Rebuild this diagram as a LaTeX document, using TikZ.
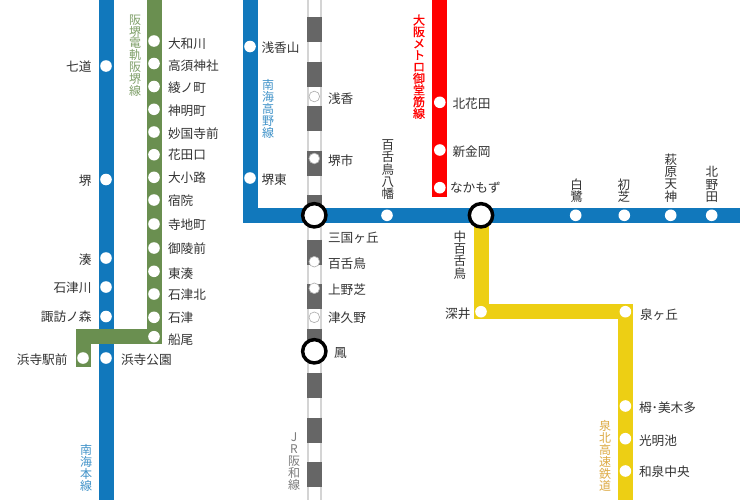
\documentclass[tikz,border=0pt]{standalone}
\usepackage{fontspec}
\setmainfont{Noto Sans CJK JP}
\usetikzlibrary{backgrounds}

\definecolor{nankaiblue}{RGB}{17,120,188}
\definecolor{hankaigreen}{RGB}{106,143,80}
\definecolor{midosujired}{RGB}{255,0,0}
\definecolor{senbokuyellow}{RGB}{237,207,20}
\definecolor{jrdark}{RGB}{102,102,102}
\definecolor{jredge}{RGB}{212,212,212}
\definecolor{labeltext}{RGB}{51,51,51}
\definecolor{senbokuname}{RGB}{221,170,68}

\tikzset{every picture/.style={line width=0.75pt}}
\tikzset{
  railline/.style={line width=11.25pt,line join=miter,line cap=butt},
  stationdot/.style={circle,fill=white,draw=none,minimum size=8.7pt,inner sep=0pt},
  jrstation/.style={circle,fill=white,draw=jrstationedge,line width=0.5pt,minimum size=8pt,inner sep=0pt},
  hubstation/.style={circle,fill=white,draw=black,line width=2.6pt,minimum size=17.5pt,inner sep=0pt},
  stationname/.style={font=\fontsize{9.5}{10}\selectfont,text=labeltext,inner sep=0pt},
  upright/.style={font=\fontsize{9.4}{9.3}\selectfont,text=labeltext,inner sep=0pt,align=center,anchor=north},
  linename/.style={font=\fontsize{9}{8.95}\selectfont,inner sep=0pt,align=center,anchor=north},
}
\colorlet{jrstationedge}{black!30}

\begin{document}
\begin{tikzpicture}[x=0.75pt,y=0.75pt,yscale=-1,xscale=1]
\useasboundingbox (0,0) rectangle (740,500);

% Line ends
\coordinate (nkTop) at (106,0);
\coordinate (nkBot) at (106,500);
\coordinate (kyTop) at (250,0);
\coordinate (kyCorner) at (250,215.3);
\coordinate (kyEnd) at (740,215.3);
\coordinate (hkTop) at (154,0);
\coordinate (hkCorner) at (83,336.7);
\coordinate (hkEnd) at (83,367);
\coordinate (jrTop) at (314.3,0);
\coordinate (jrBot) at (314.3,500);
\coordinate (mdTop) at (439.8,0);
\coordinate (mdEnd) at (439.8,197);
\coordinate (sbBot) at (625.4,500);

% Stations: Nankai main line
\node [stationdot] (shichido) at (106,66) {};
\node [stationdot] (sakai) at (106,179.5) {};
\node [stationdot] (minato) at (106,258) {};
\node [stationdot] (ishizugawa) at (106,287) {};
\node [stationdot] (suwanomori) at (106,316.5) {};
\node [stationdot] (hamaderakoen) at (106,358) {};
% Stations: Hankai line
\node [stationdot] (yamatogawa) at (154,41) {};
\node [stationdot] (takasu) at (154,63.5) {};
\node [stationdot] (ayanocho) at (154,86.5) {};
\node [stationdot] (shinmeicho) at (154,109.3) {};
\node [stationdot] (myokokuji) at (154,132) {};
\node [stationdot] (hanadaguchi) at (154,154.7) {};
\node [stationdot] (oshoji) at (154,177.3) {};
\node [stationdot] (shukuin) at (154,200) {};
\node [stationdot] (terajicho) at (154,224) {};
\node [stationdot] (goryomae) at (154,248) {};
\node [stationdot] (higashiminato) at (154,271.3) {};
\node [stationdot] (ishizukita) at (154,294) {};
\node [stationdot] (ishizu) at (154,317.3) {};
\node [stationdot] (funao) at (154,336.7) {};
\node [stationdot] (hamaderaekimae) at (83,358) {};
% Stations: Nankai Koya line
\node [stationdot] (asakayama) at (250,46.5) {};
\node [stationdot] (sakaihigashi) at (250,178) {};
\node [stationdot] (hachiman) at (387,215.3) {};
\node [stationdot] (shirasagi) at (575.7,215.3) {};
\node [stationdot] (hatsushiba) at (624.3,215.3) {};
\node [stationdot] (hagiharatenjin) at (670.7,215.3) {};
\node [stationdot] (kitanoda) at (711.7,215.3) {};
% Stations: JR Hanwa line
\node [jrstation] (asaka) at (314.3,96.5) {};
\node [jrstation] (sakaishi) at (314.3,158.5) {};
\node [jrstation] (mozu) at (314.3,261.7) {};
\node [jrstation] (uenoshiba) at (314.3,288.3) {};
\node [jrstation] (tsukuno) at (314.3,317.3) {};
% Stations: Midosuji line
\node [stationdot] (kitahanada) at (439.8,102.3) {};
\node [stationdot] (shinkanaoka) at (439.8,150) {};
\node [stationdot] (nakamozumd) at (439.8,187.7) {};
% Stations: Senboku line
\node [stationdot] (fukai) at (481,311.7) {};
\node [stationdot] (izumigaoka) at (625.4,311.7) {};
\node [stationdot] (toga) at (625.4,406) {};
\node [stationdot] (komyoike) at (625.4,438.7) {};
\node [stationdot] (izumichuo) at (625.4,471) {};
% Interchanges
\node [hubstation] (mikunigaoka) at (314.3,215.3) {};
\node [hubstation] (nakamozu) at (481,215.3) {};
\node [hubstation] (otori) at (314.3,351.3) {};

% Lines
\begin{scope}[on background layer]
\fill [white] (0,0) rectangle (740,500);
\draw [railline,jredge,line width=11.6pt] (jrTop) -- (jrBot);
\draw [railline,white,line width=8.6pt] (jrTop) -- (jrBot);
\draw [railline,jrdark,dash pattern=on 18.75pt off 14.625pt,dash phase=20.625pt] (jrTop) -- (jrBot);
\draw [railline,nankaiblue] (nkTop) -- (nkBot);
\draw [railline,nankaiblue] (kyTop) -- (kyCorner) -- (kyEnd);
\draw [railline,senbokuyellow] (nakamozu.center) -- (fukai.center) -- (izumigaoka.center) -- (sbBot);
\draw [railline,midosujired] (mdTop) -- (mdEnd);
\draw [railline,hankaigreen] (hkTop) -- (funao.center) -- (hkCorner) -- (hkEnd);
\end{scope}

% Text Node
\node [stationname,anchor=east] (lbShichido) at (92,66.5) {七道};
\node [stationname,anchor=east] (lbSakai) at (92,180.5) {堺};
\node [stationname,anchor=east] (lbMinato) at (92,260) {湊};
\node [stationname,anchor=east] (lbIshizugawa) at (92,287.5) {石津川};
\node [stationname,anchor=east] (lbSuwanomori) at (92,317) {諏訪ノ森};
\node [stationname,anchor=east] (lbHamaderaekimae) at (68,360) {浜寺駅前};
\node [stationname,anchor=west] (lbHamaderakoen) at (120.5,360) {浜寺公園};
% Text Node
\node [stationname,anchor=west] (lbYamatogawa) at (167.5,43.5) {大和川};
\node [stationname,anchor=west] (lbTakasu) at (167.5,65.5) {高須神社};
\node [stationname,anchor=west] (lbAyanocho) at (167.5,87.5) {綾ノ町};
\node [stationname,anchor=west] (lbShinmeicho) at (167.5,110.5) {神明町};
\node [stationname,anchor=west] (lbMyokokuji) at (167.5,134) {妙国寺前};
\node [stationname,anchor=west] (lbHanadaguchi) at (167.5,155) {花田口};
\node [stationname,anchor=west] (lbOshoji) at (167.5,178) {大小路};
\node [stationname,anchor=west] (lbShukuin) at (167.5,200.5) {宿院};
\node [stationname,anchor=west] (lbTerajicho) at (167.5,225) {寺地町};
\node [stationname,anchor=west] (lbGoryomae) at (167.5,249) {御陵前};
\node [stationname,anchor=west] (lbHigashiminato) at (167.5,274) {東湊};
\node [stationname,anchor=west] (lbIshizukita) at (167.5,294.5) {石津北};
\node [stationname,anchor=west] (lbIshizu) at (167.5,318) {石津};
\node [stationname,anchor=west] (lbFunao) at (167.5,340) {船尾};
% Text Node
\node [stationname,anchor=west] (lbAsakayama) at (261,48) {浅香山};
\node [stationname,anchor=west] (lbSakaihigashi) at (261,180) {堺東};
\node [stationname,anchor=west] (lbAsaka) at (327.5,98.5) {浅香};
\node [stationname,anchor=west] (lbSakaishi) at (327.5,160.5) {堺市};
\node [stationname,anchor=west] (lbMikunigaoka) at (327.5,237.5) {三国ヶ丘};
\node [stationname,anchor=west] (lbMozu) at (327.5,263.5) {百舌鳥};
\node [stationname,anchor=west] (lbUenoshiba) at (327.5,289.5) {上野芝};
\node [stationname,anchor=west] (lbTsukuno) at (327.5,318) {津久野};
\node [stationname,anchor=west] (lbOtori) at (333.5,353) {鳳};
% Text Node
\node [stationname,anchor=west] (lbKitahanada) at (452,103.5) {北花田};
\node [stationname,anchor=west] (lbShinkanaoka) at (452,151.5) {新金岡};
\node [stationname,anchor=west] (lbNakamozumd) at (449.5,187.5) {なかもず};
\node [stationname,anchor=east] (lbFukai) at (471,314) {深井};
\node [stationname,anchor=west] (lbIzumigaoka) at (639.5,315) {泉ヶ丘};
\node [stationname,anchor=west] (lbToga) at (638.5,407.5) {栂･美木多};
\node [stationname,anchor=west] (lbKomyoike) at (638.5,441) {光明池};
\node [stationname,anchor=west] (lbIzumichuo) at (638.5,472) {和泉中央};
% Text Node
\node [upright] (lbHachiman) at (388,139) {百\\舌\\鳥\\八\\幡};
\node [upright] (lbShirasagi) at (576.7,178) {白\\鷺};
\node [upright] (lbHatsushiba) at (624,178) {初\\芝};
\node [upright] (lbHagihara) at (671,153) {萩\\原\\天\\神};
\node [upright] (lbKitanoda) at (712,166) {北\\野\\田};
\node [upright] (lbNakamozu) at (460,230) {中\\百\\舌\\鳥};
% Text Node
\node [linename,text=hankaigreen!85!white] (nmHankai) at (135,14) {阪\\堺\\電\\軌\\阪\\堺\\線};
\node [linename,text=nankaiblue!80!white] (nmNankai) at (86,444) {南\\海\\本\\線};
\node [linename,text=nankaiblue!80!white] (nmKoya) at (268,79) {南\\海\\高\\野\\線};
\node [linename,text=midosujired,font=\fontsize{9}{8.75}\selectfont\addfontfeature{FakeBold=0.7}] (nmMidosuji) at (419,14) {大\\阪\\メ\\ト\\ロ\\御\\堂\\筋\\線};
\node [linename,text=jrdark!85!white] (nmHanwa) at (294,432) {J\\R\\阪\\和\\線};
\node [linename,text=senbokuname] (nmSenboku) at (605,420) {泉\\北\\高\\速\\鉄\\道};

\end{tikzpicture}
\end{document}
